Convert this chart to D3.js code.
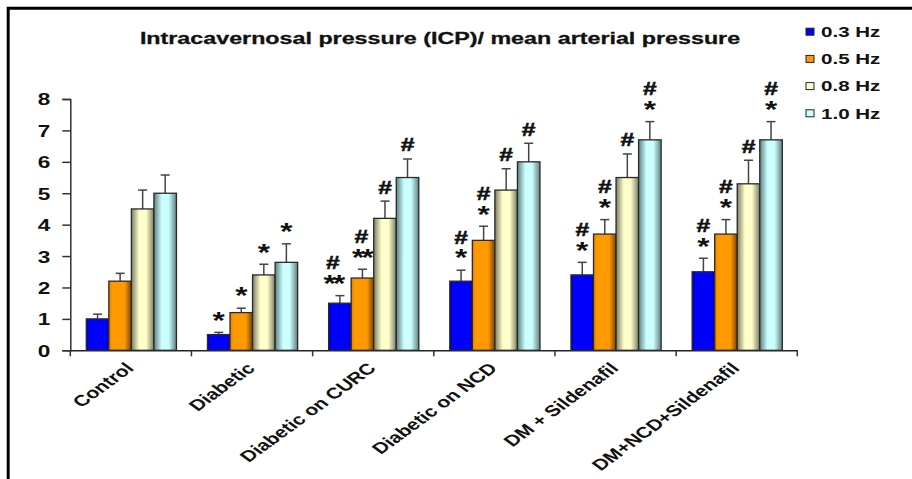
<!DOCTYPE html>
<html><head><meta charset="utf-8">
<script src="https://cdn.jsdelivr.net/npm/d3@7"></script>
<style>
html,body{margin:0;padding:0;background:#fff;}
svg{display:block;font-family:"Liberation Sans",Arial,sans-serif;font-weight:bold;}
</style></head>
<body><svg id="chart" width="912" height="479"></svg>
<script>
const categories = ["Control","Diabetic","Diabetic on CURC","Diabetic on NCD","DM + Sildenafil","DM+NCD+Sildenafil"];
const seriesNames = ["0.3 Hz","0.5 Hz","0.8 Hz","1.0 Hz"];
const seriesColors = ["#0000FF","#FF9900","#FFFFCC","#CCFFFF"];
const seriesDark = ["#00008a","#7a4400","#7d7d62","#5e8080"];
// values[series][category]
const v03 = [1.0, 0.5, 1.5, 2.2, 2.4, 2.5];
const v05 = [2.2, 1.2, 2.3, 3.5, 3.7, 3.7];
const v08 = [4.5, 2.4, 4.2, 5.1, 5.5, 5.3];
const v10 = [5.0, 2.8, 5.5, 6.0, 6.7, 6.7];
// upper end of error bar
const e03 = [1.15, 0.57, 1.74, 2.55, 2.8, 2.93];
const e05 = [2.45, 1.34, 2.58, 3.95, 4.16, 4.16];
const e08 = [5.1, 2.74, 4.75, 5.78, 6.25, 6.05];
const e10 = [5.58, 3.39, 6.09, 6.59, 7.28, 7.28];
// significance marks (top line first)
const m03 = [[], ["*"], ["#","**"], ["#","*"], ["#","*"], ["#","*"]];
const m05 = [[], ["*"], ["#","**"], ["#","*"], ["#","*"], ["#","*"]];
const m08 = [[], ["*"], ["#"], ["#"], ["#"], ["#"]];
const m10 = [[], ["*"], ["#"], ["#"], ["#","*"], ["#","*"]];
const yTicks = [0,1,2,3,4,5,6,7,8];
const chartTitle = "Intracavernosal pressure (ICP)/ mean arterial pressure";

const values = [v03, v05, v08, v10];
const errs = [e03, e05, e08, e10];
const marks = [m03, m05, m08, m10];
const SX = 1.37; // horizontal stretch of the original picture

const svg = d3.select("#chart");
const defs = svg.append("defs");
seriesNames.forEach((s,i)=>{
  const g = defs.append("linearGradient").attr("id","grad"+i).attr("x1","0").attr("x2","1").attr("y1","0").attr("y2","0");
  const stops = i===0 ? [[0,seriesDark[0]],[0.12,seriesColors[0]],[0.88,seriesColors[0]],[1,seriesDark[0]]]
              : i===1 ? [[0,"#e08000"],[0.15,seriesColors[1]],[0.7,seriesColors[1]],[1,seriesDark[1]]]
              : [[0,seriesDark[i]],[0.35,seriesColors[i]],[0.65,seriesColors[i]],[1,seriesDark[i]]];
  stops.forEach(st=>g.append("stop").attr("offset",st[0]).attr("stop-color",st[1]));
});

// frame
svg.append("path").attr("d","M8.2,479 L8.2,8.2 L912,8.2").attr("fill","none").attr("stroke","#000").attr("stroke-width",3);

const x0 = d3.scaleBand().domain(categories).range([70.3, 797.3]).padding(0);
const x1 = d3.scaleBand().domain(seriesNames).range([16, x0.bandwidth()-15]).padding(0);
const y = d3.scaleLinear().domain([0,8]).range([350.3, 99]);

// title
svg.append("text").attr("transform",`translate(440,44) scale(${SX},1)`).attr("text-anchor","middle")
  .attr("font-size",17).attr("fill","#111").attr("stroke","#111").attr("stroke-width",0.3).text(chartTitle);

// y axis
const yAxis = svg.append("g").attr("transform","translate(70.3,0)")
  .call(d3.axisLeft(y).tickValues(yTicks).tickSize(8).tickFormat(d3.format("d")));
yAxis.select(".domain").attr("stroke","#333").attr("stroke-width",1.5);
yAxis.selectAll(".tick line").attr("stroke","#333").attr("stroke-width",1.5);
yAxis.selectAll(".tick text").attr("x",0).attr("dy","0.36em")
  .attr("transform",`translate(-20,0) scale(${SX},1)`).attr("font-size",16.5).attr("font-family","Liberation Sans, Arial, sans-serif").attr("font-weight","bold").attr("fill","#111");

// x axis
const xAxis = svg.append("g").attr("transform",`translate(0,${y(0)})`)
  .call(d3.axisBottom(x0).tickSize(0).tickFormat(""));
xAxis.select(".domain").attr("stroke","#222").attr("stroke-width",1.5);
xAxis.selectAll(".tick").remove();
const bounds = categories.map(c=>x0(c)).concat([x0.range()[1]]);
xAxis.selectAll("line.sep").data(bounds).join("line").attr("class","sep")
  .attr("x1",d=>d).attr("x2",d=>d).attr("y1",0).attr("y2",6).attr("stroke","#333").attr("stroke-width",1.5);

// category labels
svg.append("g").selectAll("text").data(categories).join("text")
  .attr("transform",d=>`translate(${x0(d)+x0.bandwidth()/2+4},${y(0)+19}) scale(${SX},1) rotate(-45)`)
  .attr("text-anchor","end").attr("font-size",15.5).attr("fill","#111").text(d=>d);

// bars
const groups = svg.append("g").selectAll("g").data(categories).join("g")
  .attr("transform",d=>`translate(${x0(d)},0)`);
groups.each(function(c,ci){
  const g = d3.select(this);
  seriesNames.forEach((s,si)=>{
    const val = values[si][ci], err = errs[si][ci];
    const bx = x1(s), bw = x1.bandwidth();
    const cx = bx + bw/2;
    // error bar
    g.append("line").attr("x1",cx).attr("x2",cx).attr("y1",y(val)).attr("y2",y(err)).attr("stroke","#444").attr("stroke-width",1.5);
    g.append("line").attr("x1",cx-4.5).attr("x2",cx+4.5).attr("y1",y(err)).attr("y2",y(err)).attr("stroke","#444").attr("stroke-width",1.5);
    g.append("rect").attr("x",bx).attr("y",y(val)).attr("width",bw).attr("height",y(0)-y(val))
      .attr("fill",`url(#grad${si})`).attr("stroke","#2a2a2a").attr("stroke-width",1.3);
    const ml = marks[si][ci];
    if (ml.length) {
      const shift = ml.some(m=>m==="**") ? (si===0 ? -7 : -1) : 0;
      const t = g.append("text").attr("transform",`translate(${cx+shift},0) scale(${SX},1)`)
        .attr("text-anchor","middle").attr("fill","#111");
      ml.forEach((m,k)=>{
        const fromBottom = ml.length-1-k;
        const isStar = m.indexOf("*")>=0;
        const center = y(err) - 14 - fromBottom*19;
        t.append("tspan").attr("x",0).attr("y", center + (isStar ? 10.3 : 6.5))
          .attr("font-size",isStar ? 23 : 18)
          .attr("letter-spacing", m==="**" ? -2 : 0)
          .attr("stroke", isStar ? "none" : "#111").attr("stroke-width",0.5)
          .text(m);
      });
    }
  });
});

// legend
const leg = svg.append("g").selectAll("g").data(seriesNames).join("g")
  .attr("transform",(d,i)=>`translate(806,${31.7+i*27.2})`);
leg.append("rect").attr("x",0).attr("y",-3.5).attr("width",8).attr("height",7)
  .attr("fill",(d,i)=>seriesColors[i]).attr("stroke","#222").attr("stroke-width",1);
leg.append("text").attr("transform",`translate(15,5.2) scale(${SX},1)`).attr("font-size",15).attr("fill","#111").text(d=>d);
</script></body></html>
